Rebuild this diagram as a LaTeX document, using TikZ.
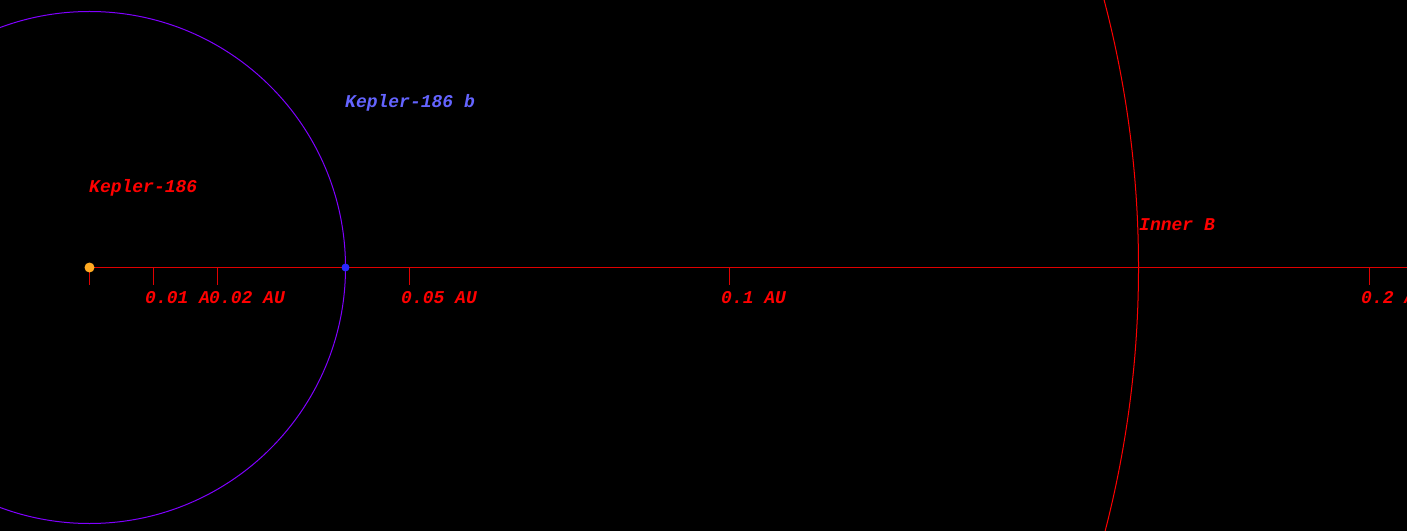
\documentclass[tikz,border=0pt]{standalone}
\usepackage{fontspec}
\newfontfamily\orbitfont{Liberation Mono}
\usetikzlibrary{positioning}
\definecolor{skyred}{HTML}{FF0000}
\definecolor{axisred}{HTML}{E00000}
\definecolor{orbitviolet}{HTML}{8000FF}
\definecolor{planetblue}{HTML}{2828FF}
\definecolor{labelblue}{HTML}{6464FF}
\definecolor{starorange}{HTML}{FFAA22}

\begin{document}
\begin{tikzpicture}[x=1bp, y=-1bp,
  lbl/.style={font=\orbitfont\bfseries\itshape\fontsize{18bp}{20bp}\selectfont,
    text=#1, inner sep=0pt, anchor=base west},
  ticklabel/.style={lbl=skyred, fill=black},
  body/.style={circle, fill=#1, inner sep=0pt},
]
  \fill[black] (0,0) rectangle (1407,531);
  \clip (0,0) rectangle (1407,531);

  % orbits
  \draw[orbitviolet, line width=1bp] (89.5,267.5) circle [radius=256];
  \draw[skyred, line width=1bp] (89.5,267.5) circle [radius=1049];

  % axis and ticks
  \coordinate (axisstart) at (89.5,267.5);
  \coordinate (axisend) at (1407,267.5);
  \draw[axisred, line width=1.2bp] (axisstart) -- (axisend);
  \foreach \x/\t in {153/0.01, 217/0.02, 409/0.05, 729/0.1, 1369/0.2} {
    \draw[axisred, line width=1.2bp] (\x+0.5,267.5) -- (\x+0.5,285);
    \node[ticklabel] (tick\x) at (\x-8,303.5) {\t\ AU};
  }
  \draw[axisred, line width=1.2bp] (axisstart) -- (89.5,285);

  % bodies
  \node[body=starorange, minimum size=10bp] (star) at (axisstart) {};
  \node[body=planetblue, minimum size=8bp] (planet) at (345.5,267.5) {};

  % labels
  \node[lbl=skyred] (starname) at (89,193) {Kepler-186};
  \node[lbl=labelblue] (planetname) at (345,108) {Kepler-186 b};
  \node[lbl=skyred] (innername) at (1139,231) {Inner B};
\end{tikzpicture}
\end{document}
